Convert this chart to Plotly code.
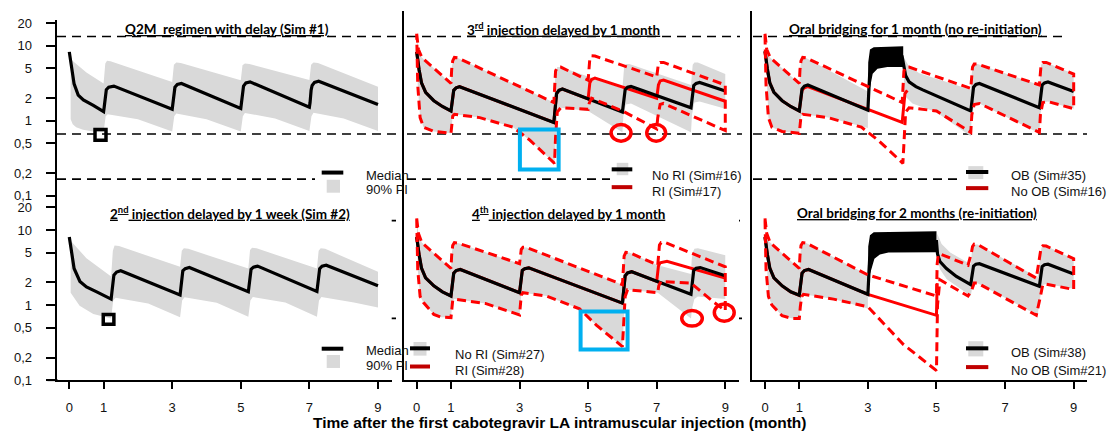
import plotly.graph_objects as go

W, H = 1111, 439

# ---------------- reference concentrations (µg/mL) ----------------
THRESHOLDS = [13.3, 0.664, 0.166]
Y_TICKS = [0.1, 0.2, 0.5, 1, 2, 5, 10, 20]
Y_TICK_TEXT = ["0,1", "0,2", "0,5", "1", "2", "5", "10", "20"]
X_TICKS = [0, 1, 3, 5, 7, 9]

# ---------------- Sim #1 : Q2M regimen with delay ----------------
SIM1_T = [0, 0.03, 0.07, 0.14, 0.26, 0.41, 0.7, 1.0, 1.02, 1.05, 1.08, 1.15, 1.3,
          3.0, 3.02, 3.05, 3.08, 3.15, 3.27, 5.0, 5.02, 5.05, 5.08, 5.15, 5.27,
          7.0, 7.02, 7.05, 7.08, 7.15, 7.27, 9.0]
SIM1_MED = [8.3, 6.5, 4.9, 3.1, 2.2, 1.9, 1.6, 1.32, 1.55, 2.2, 2.6, 2.8, 2.9,
            1.42, 1.65, 2.4, 2.8, 3.05, 3.15, 1.46, 1.7, 2.5, 2.9, 3.2, 3.3,
            1.52, 1.75, 2.55, 2.95, 3.25, 3.37, 1.65]
SIM1_HI_T = [0.04, 0.5, 1.0, 1.02, 1.05, 1.1, 1.2, 3.0, 3.02, 3.05, 3.12, 3.25,
             5.0, 5.02, 5.05, 5.12, 5.25, 7.0, 7.02, 7.05, 7.12, 7.25, 9.0]
SIM1_HI = [6.6, 4.4, 3.15, 4.5, 5.8, 6.3, 6.2, 3.3, 4.6, 5.6, 6.0, 5.9,
           3.47, 4.6, 5.5, 5.8, 5.7, 3.5, 4.6, 5.6, 6.0, 5.9, 2.85]
SIM1_LO_T = [0.04, 0.1, 0.2, 0.4, 0.7, 1.0, 1.03, 1.06, 1.12, 2.0, 3.0, 3.03, 3.06,
             3.12, 4.0, 5.0, 5.03, 5.06, 5.12, 6.0, 7.0, 7.03, 7.06, 7.12, 8.0, 9.0]
SIM1_LO = [1.05, 0.9, 0.82, 0.76, 0.72, 0.70, 0.85, 1.15, 1.22, 1.05, 0.72, 0.9, 1.15,
           1.25, 1.05, 0.72, 0.9, 1.15, 1.27, 1.07, 0.73, 0.9, 1.15, 1.28, 1.07, 0.73]

# ---------------- Sim #2 : 2nd injection delayed by 1 week ----------------
SIM2_T = [0, 0.03, 0.07, 0.14, 0.31, 0.5, 0.8, 1.22, 1.24, 1.27, 1.3, 1.38, 1.5,
          3.23, 3.25, 3.28, 3.31, 3.38, 3.5, 5.22, 5.24, 5.27, 5.3, 5.37, 5.49,
          7.22, 7.24, 7.27, 7.3, 7.37, 7.49, 9.0]
SIM2_MED = [8.07, 6.3, 4.8, 3.07, 2.06, 1.74, 1.5, 1.2, 1.45, 2.1, 2.5, 2.75, 2.87,
            1.36, 1.65, 2.4, 2.85, 3.05, 3.16, 1.5, 1.8, 2.6, 3.0, 3.2, 3.3,
            1.52, 1.85, 2.65, 3.05, 3.3, 3.4, 1.81]
SIM2_HI_T = [0.04, 0.5, 1.22, 1.24, 1.27, 1.32, 1.45, 3.23, 3.25, 3.28, 3.34, 3.47,
             5.22, 5.24, 5.27, 5.33, 5.46, 7.22, 7.24, 7.27, 7.33, 7.46, 9.0]
SIM2_HI = [7.2, 4.2, 2.4, 3.8, 5.3, 6.2, 6.1, 3.23, 4.4, 5.3, 5.7, 5.6,
           3.06, 4.4, 5.4, 5.8, 5.7, 3.06, 4.4, 5.3, 5.7, 5.6, 2.78]
SIM2_LO_T = [0.04, 0.3, 0.7, 1.22, 1.25, 1.28, 1.35, 2.3, 3.23, 3.26, 3.29, 3.36, 4.3,
             5.22, 5.25, 5.28, 5.35, 6.3, 7.22, 7.25, 7.28, 7.35, 8.3, 9.0]
SIM2_LO = [1.46, 0.98, 0.76, 0.66, 0.9, 1.15, 1.25, 1.05, 0.69, 0.9, 1.15, 1.27, 1.07,
           0.7, 0.9, 1.15, 1.28, 1.08, 0.7, 0.9, 1.15, 1.28, 1.08, 0.93]

# ---------------- Sim #16 : 3rd injection delayed, no re-initiation ----------------
SIM16_T = [0, 0.03, 0.07, 0.14, 0.26, 0.5, 0.75, 1.0, 1.02, 1.05, 1.08, 1.15, 1.25,
           4.0, 4.02, 4.05, 4.08, 4.15, 4.25, 6.0, 6.02, 6.05, 6.08, 6.15, 6.25,
           8.0, 8.02, 8.05, 8.08, 8.15, 8.25, 9.0]
SIM16_MED = [8.3, 6.3, 4.8, 3.2, 2.4, 1.85, 1.55, 1.35, 1.6, 2.2, 2.55, 2.75, 2.85,
             0.95, 1.2, 1.9, 2.3, 2.55, 2.65, 1.31, 1.55, 2.2, 2.6, 2.8, 2.87,
             1.49, 1.8, 2.6, 2.95, 3.15, 3.24, 2.5]
SIM16_UP_T = [0, 0.05, 0.15, 1.0, 1.02, 1.05, 1.1, 1.2, 4.0, 4.02, 4.05, 4.1, 4.2,
              6.0, 6.02, 6.05, 6.1, 6.2, 8.0, 8.02, 8.05, 8.1, 8.2, 9.0]
SIM16_UP = [14.5, 9.0, 7.0, 3.15, 4.8, 6.3, 7.0, 6.9, 1.75, 3.2, 4.6, 5.2, 5.2,
            2.7, 4.0, 5.2, 5.7, 5.7, 3.0, 4.5, 5.6, 6.0, 6.0, 4.2]
SIM16_LO_T = [0, 0.03, 0.1, 0.2, 0.5, 1.0, 1.02, 1.05, 1.1, 1.84, 2.81, 3.3,
              4.02, 4.05, 4.1, 4.2, 5.0, 6.0, 6.03, 6.1, 6.25, 8.0, 8.03, 8.1, 8.25, 9.0]
SIM16_LO = [14.5, 3.0, 1.1, 0.82, 0.72, 0.68, 0.9, 1.15, 1.22, 1.10, 0.82, 0.55,
            0.27, 0.6, 1.3, 1.49, 1.35, 0.70, 1.2, 1.65, 1.7, 0.70, 1.2, 1.75, 1.8, 1.45]

# ---------------- Sim #17 : 3rd injection delayed, re-initiation ----------------
SIM17_T = [0, 0.03, 0.07, 0.14, 0.26, 0.5, 0.75, 1.0, 1.02, 1.05, 1.08, 1.15, 1.25,
           4.0, 4.02, 4.05, 4.08, 4.15, 4.25, 5.0, 5.02, 5.05, 5.1, 5.2,
           7.0, 7.02, 7.05, 7.1, 7.2, 9.0]
SIM17_MED = [8.3, 6.3, 4.8, 3.2, 2.4, 1.85, 1.55, 1.35, 1.6, 2.2, 2.55, 2.75, 2.85,
             0.95, 1.2, 1.9, 2.3, 2.55, 2.65, 1.96, 2.4, 3.2, 3.55, 3.72,
             2.0, 2.3, 3.0, 3.4, 3.5, 1.82]
SIM17_UP_T = [0, 0.05, 0.15, 1.0, 1.02, 1.05, 1.1, 1.2, 4.0, 4.02, 4.05, 4.1, 4.2,
              5.0, 5.02, 5.05, 5.1, 5.2, 7.0, 7.02, 7.05, 7.1, 7.2, 9.0]
SIM17_UP = [14.5, 9.0, 7.0, 3.15, 4.8, 6.3, 7.0, 6.9, 1.75, 3.2, 4.6, 5.2, 5.2,
            3.47, 5.0, 6.8, 7.35, 7.3, 3.84, 5.0, 5.8, 6.0, 6.0, 3.0]
SIM17_LO_T = [0, 0.03, 0.1, 0.2, 0.5, 1.0, 1.02, 1.05, 1.1, 1.84, 2.81, 3.3,
              4.02, 4.05, 4.1, 4.2, 5.0, 5.03, 5.1, 6.0, 7.0, 7.03, 7.1, 7.2, 9.0]
SIM17_LO = [14.5, 3.0, 1.1, 0.82, 0.72, 0.68, 0.9, 1.15, 1.22, 1.10, 0.82, 0.55,
            0.27, 0.6, 1.3, 1.49, 1.42, 1.7, 2.0, 1.35, 0.78, 1.1, 1.65, 1.7, 0.74]

# ---------------- Sim #35 : oral bridging for 1 month ----------------
SIM35_T = [0, 0.03, 0.07, 0.14, 0.26, 0.5, 0.75, 1.0, 1.02, 1.05, 1.08, 1.15, 1.25,
           3.0, 3.05, 3.15, 3.4, 4.0, 4.05, 4.1, 4.2, 4.4, 4.6,
           6.0, 6.02, 6.05, 6.08, 6.15, 6.25, 8.0, 8.02, 8.05, 8.08, 8.15, 8.25, 9.0]
SIM35_MED = [8.5, 6.4, 4.9, 3.2, 2.4, 1.85, 1.55, 1.35, 1.6, 2.3, 2.65, 2.9, 3.0,
             1.38, 4.0, 6.0, 7.0, 7.1, 5.2, 4.0, 3.3, 2.85, 2.58,
             1.35, 1.6, 2.4, 2.8, 3.05, 3.15, 1.49, 1.8, 2.6, 3.0, 3.2, 3.3, 2.45]
SIM35_ORAL_HI_T = [2.99, 3.01, 3.06, 3.17, 4.03]
SIM35_ORAL_HI = [1.38, 6.0, 8.9, 9.6, 9.9]
SIM35_ORAL_LO_T = [2.99, 3.04, 3.14, 3.28, 3.57, 4.03]
SIM35_ORAL_LO = [1.38, 2.45, 4.24, 4.93, 5.2, 5.2]
SIM35_HI_T = [0.04, 0.15, 1.0, 1.02, 1.05, 1.1, 1.2, 3.0]
SIM35_HI = [8.0, 7.0, 3.15, 4.8, 6.3, 7.0, 6.9, 2.45]
SIM35_LO_T = [0.04, 0.1, 0.2, 0.5, 1.0, 1.02, 1.05, 1.1, 1.84, 3.0]
SIM35_LO = [5.0, 1.1, 0.82, 0.72, 0.68, 0.9, 1.15, 1.22, 1.10, 0.8]
SIM35_HI2_T = [4.05, 4.2, 4.5, 6.0, 6.02, 6.05, 6.1, 6.2, 8.0, 8.02, 8.05, 8.1, 8.2, 9.0]
SIM35_HI2 = [7.0, 5.3, 4.3, 2.6, 4.0, 5.2, 5.7, 5.7, 3.0, 4.5, 5.6, 6.0, 6.0, 4.2]
SIM35_LO2_T = [4.05, 4.3, 5.0, 6.0, 6.03, 6.1, 6.25, 8.0, 8.03, 8.1, 8.25, 9.0]
SIM35_LO2 = [2.2, 1.7, 1.3, 0.62, 1.2, 1.65, 1.7, 0.68, 1.2, 1.75, 1.8, 1.45]
# the no-bridging median is shown up to the delayed injection only
NO_OB_1M_LAST_T = 4.15

# ---------------- Sim #27 : 4th injection delayed, no re-initiation ----------------
SIM27_T = [0, 0.03, 0.07, 0.14, 0.26, 0.5, 0.75, 1.0, 1.02, 1.05, 1.08, 1.15, 1.27,
           3.0, 3.02, 3.05, 3.08, 3.15, 3.27, 6.0, 6.02, 6.05, 6.08, 6.15, 6.27,
           8.0, 8.02, 8.05, 8.08, 8.15, 8.27, 9.0]
SIM27_MED = [8.07, 6.2, 4.7, 3.1, 2.3, 1.8, 1.5, 1.32, 1.6, 2.3, 2.65, 2.88, 2.98,
             1.46, 1.75, 2.5, 2.9, 3.05, 3.13, 1.06, 1.35, 2.05, 2.45, 2.68, 2.78,
             1.39, 1.7, 2.5, 2.9, 3.08, 3.16, 2.45]
SIM27_UP_T = [0, 0.05, 0.15, 1.0, 1.02, 1.05, 1.1, 1.2, 3.0, 3.02, 3.05, 3.1, 3.2,
              6.0, 6.02, 6.05, 6.1, 6.2, 7.03, 8.0, 8.02, 8.05, 8.1, 8.2, 9.0]
SIM27_UP = [14.3, 9.0, 6.8, 3.07, 4.6, 6.2, 6.8, 6.7, 3.56, 4.6, 5.5, 5.87, 5.85,
            1.87, 3.3, 4.5, 5.04, 5.0, 3.4, 2.6, 4.0, 5.0, 5.6, 5.7, 4.6]
SIM27_LO_T = [0, 0.03, 0.1, 0.2, 0.5, 0.7, 1.0, 1.02, 1.05, 1.1, 2.0, 3.0, 3.02, 3.05,
              3.1, 3.78, 4.75, 5.24, 6.0, 6.03, 6.08, 6.15, 7.03, 8.0, 8.03, 8.1, 8.2, 9.0]
SIM27_LO = [14.3, 3.0, 1.3, 1.08, 0.75, 0.69, 0.68, 0.9, 1.15, 1.2, 1.05, 0.74, 1.0, 1.35,
            1.46, 1.32, 0.89, 0.54, 0.28, 0.6, 1.3, 1.6, 1.46, 0.66, 0.9, 1.2, 1.3, 1.2]

# ---------------- Sim #28 : 4th injection delayed, re-initiation ----------------
SIM28_T = [0, 0.03, 0.07, 0.14, 0.26, 0.5, 0.75, 1.0, 1.02, 1.05, 1.08, 1.15, 1.27,
           3.0, 3.02, 3.05, 3.08, 3.15, 3.27, 6.0, 6.02, 6.05, 6.08, 6.15, 6.27,
           7.0, 7.02, 7.05, 7.1, 7.3, 9.0]
SIM28_MED = [8.07, 6.2, 4.7, 3.1, 2.3, 1.8, 1.5, 1.32, 1.6, 2.3, 2.65, 2.88, 2.98,
             1.46, 1.75, 2.5, 2.9, 3.05, 3.13, 1.06, 1.35, 2.05, 2.45, 2.68, 2.78,
             2.06, 2.6, 3.3, 3.65, 3.83, 2.28]
SIM28_UP_T = [0, 0.05, 0.15, 1.0, 1.02, 1.05, 1.1, 1.2, 3.0, 3.02, 3.05, 3.1, 3.2,
              6.0, 6.02, 6.05, 6.1, 6.2, 7.03, 7.05, 7.08, 7.13, 7.25, 9.0]
SIM28_UP = [14.3, 9.0, 6.8, 3.07, 4.6, 6.2, 6.8, 6.7, 3.56, 4.6, 5.5, 5.87, 5.85,
            1.87, 3.3, 4.5, 5.04, 5.0, 3.4, 5.0, 6.3, 6.8, 6.8, 3.23]
SIM28_LO_T = [0, 0.03, 0.1, 0.2, 0.5, 0.7, 1.0, 1.02, 1.05, 1.1, 2.0, 3.0, 3.02, 3.05,
              3.1, 3.78, 4.75, 5.24, 6.0, 6.03, 6.08, 6.15, 7.03, 7.06, 7.12, 8.0, 8.68, 9.0]
SIM28_LO = [14.3, 3.0, 1.3, 1.08, 0.75, 0.69, 0.68, 0.9, 1.15, 1.2, 1.05, 0.74, 1.0, 1.35,
            1.46, 1.32, 0.89, 0.54, 0.28, 0.6, 1.3, 1.6, 1.46, 1.8, 2.06, 1.96, 1.08, 0.84]

# ---------------- Sim #38 : oral bridging for 2 months ----------------
SIM38_T = [0, 0.03, 0.07, 0.14, 0.26, 0.5, 0.75, 1.0, 1.02, 1.05, 1.08, 1.15, 1.27,
           3.0, 3.05, 3.15, 3.4, 5.0, 5.03, 5.1, 5.29, 5.58,
           6.0, 6.02, 6.05, 6.08, 6.15, 6.25, 8.0, 8.02, 8.05, 8.08, 8.15, 8.25, 9.0]
SIM38_MED = [8.07, 6.2, 4.7, 3.1, 2.3, 1.8, 1.5, 1.35, 1.6, 2.3, 2.65, 2.88, 2.98,
             1.39, 4.0, 6.0, 7.0, 7.0, 4.8, 3.8, 3.07, 2.4,
             1.87, 2.2, 2.9, 3.3, 3.5, 3.56, 1.78, 2.1, 2.9, 3.25, 3.45, 3.5, 2.6]
SIM38_ORAL_HI_T = [2.99, 3.01, 3.06, 3.17, 5.0]
SIM38_ORAL_HI = [1.39, 6.0, 8.5, 9.3, 9.6]
SIM38_ORAL_LO_T = [2.99, 3.04, 3.19, 3.35, 3.6, 5.0]
SIM38_ORAL_LO = [1.39, 2.4, 4.14, 4.7, 5.0, 5.04]
SIM38_HI_T = [0.04, 0.15, 1.0, 1.02, 1.05, 1.1, 1.2, 3.0]
SIM38_HI = [7.5, 6.8, 3.07, 4.6, 6.2, 6.8, 6.7, 2.52]
SIM38_LO_T = [0.04, 0.1, 0.2, 0.5, 0.8, 1.0, 1.03, 1.07, 1.12, 2.0, 3.0]
SIM38_LO = [5.0, 1.3, 1.0, 0.72, 0.66, 0.66, 0.95, 1.3, 1.39, 1.2, 0.9]
SIM38_HI2_T = [5.02, 5.15, 5.4, 6.0, 6.03, 6.06, 6.1, 6.2, 7.95, 8.03, 8.06, 8.1, 8.2, 9.0]
SIM38_HI2 = [9.0, 6.5, 5.0, 3.5, 5.0, 6.0, 6.4, 6.4, 2.35, 4.8, 5.8, 6.1, 6.1, 4.1]
SIM38_LO2_T = [5.02, 5.1, 5.3, 6.0, 6.03, 6.1, 6.2, 7.95, 8.03, 8.1, 8.2, 9.0]
SIM38_LO2 = [4.5, 3.0, 2.2, 1.32, 1.6, 1.9, 1.95, 0.73, 1.3, 1.85, 1.9, 1.65]

# ---------------- Sim #21 : no oral bridging, re-initiation ----------------
SIM21_T = [0, 0.03, 0.07, 0.14, 0.26, 0.5, 0.75, 1.0, 1.02, 1.05, 1.08, 1.15, 1.27,
           3.0, 5.0, 5.02]
SIM21_MED = [8.07, 6.2, 4.7, 3.1, 2.3, 1.8, 1.5, 1.35, 1.6, 2.3, 2.65, 2.88, 2.98,
             1.39, 0.73, 1.96]
SIM21_UP_T = [0, 0.05, 0.15, 1.0, 1.02, 1.05, 1.1, 1.2, 3.0, 5.0, 5.02, 5.05, 5.1, 5.92,
              6.02, 6.05, 6.1, 6.2, 7.91, 8.02, 8.05, 8.1, 8.2, 9.0]
SIM21_UP = [14.3, 9.0, 6.8, 3.07, 4.6, 6.2, 6.8, 6.7, 2.52, 1.32, 3.5, 4.6, 4.8, 3.4,
            5.0, 6.0, 6.47, 6.4, 2.28, 4.8, 5.8, 6.16, 6.1, 4.14]
SIM21_LO_T = [0, 0.03, 0.1, 0.2, 0.5, 0.8, 1.0, 1.03, 1.07, 1.12, 2.0, 3.0, 4.03, 5.0,
              5.03, 5.1, 5.92, 6.03, 6.1, 6.2, 7.91, 8.03, 8.1, 8.2, 9.0]
SIM21_LO = [14.3, 3.0, 1.3, 1.0, 0.72, 0.66, 0.66, 0.95, 1.3, 1.39, 1.2, 0.95, 0.30, 0.134,
            1.0, 2.17, 1.32, 1.6, 1.96, 1.96, 0.73, 1.3, 1.87, 1.9, 1.61]

# ---------------- highlighted regions (month, µg/mL) ----------------
SQUARE_SIM1_T, SQUARE_SIM1_C = [0.75, 1.07], [0.55, 0.764]
SQUARE_SIM2_T, SQUARE_SIM2_C = [0.99, 1.30], [0.557, 0.749]
BOX_SIM17_T, BOX_SIM17_C = [3.01, 4.14], [0.224, 0.764]
BOX_SIM28_T, BOX_SIM28_C = [4.78, 6.15], [0.256, 0.818]
RINGS_SIM17_T = [[5.67, 6.25], [6.71, 7.26]]
RINGS_SIM17_C = [[0.534, 0.887], [0.534, 0.887]]
RINGS_SIM28_T = [[7.73, 8.33], [8.68, 9.26]]
RINGS_SIM28_C = [[0.524, 0.844], [0.608, 1.035]]

TITLES = [
    "Q2M\u00a0 regimen with delay (Sim #1)",
    "3<sup>rd</sup> injection delayed by 1 month",
    "Oral bridging for 1 month (no re-initiation)",
    "2<sup>nd</sup> injection delayed by 1 week (Sim #2)",
    "4<sup>th</sup> injection delayed by 1 month",
    "Oral bridging for 2 months (re-initiation)",
]
X_TITLE = "Time after the first cabotegravir LA intramuscular injection (month)"

GREY = "#d9d9d9"
RED = "#ff0000"
DARK_RED = "#c00000"
BLUE = "#00b0f0"
ARIAL = "Liberation Sans, Arial, sans-serif"
TITLE_FONT = "Lato, Carlito, Calibri, sans-serif"


def fx(px):
    return px / W


def fy(py):
    return 1 - py / H


fig = go.Figure()


def ax_ids(n):
    return ("x" if n == 1 else f"x{n}"), ("y" if n == 1 else f"y{n}")


def add_band(n, t_hi, v_hi, t_lo, v_lo, color=GREY):
    xa, ya = ax_ids(n)
    fig.add_trace(go.Scatter(
        x=list(t_hi) + list(t_lo)[::-1], y=list(v_hi) + list(v_lo)[::-1],
        mode="lines", fill="toself", fillcolor=color, line=dict(width=0, color=color),
        xaxis=xa, yaxis=ya, hoverinfo="skip", showlegend=False))


def add_line(n, t, v, color, width):
    xa, ya = ax_ids(n)
    fig.add_trace(go.Scatter(
        x=t, y=v, mode="lines", line=dict(color=color, width=width),
        xaxis=xa, yaxis=ya, hoverinfo="skip", showlegend=False))


def add_pi_outline(n, t_up, v_up, t_lo, v_lo):
    xa, ya = ax_ids(n)
    fig.add_trace(go.Scatter(
        x=list(t_up) + list(t_lo)[::-1], y=list(v_up) + list(v_lo)[::-1],
        mode="lines", line=dict(color=RED, width=3, dash="9px,5px"),
        xaxis=xa, yaxis=ya, hoverinfo="skip", showlegend=False))


# Panel 1: Sim #1
add_band(1, SIM1_HI_T, SIM1_HI, SIM1_LO_T, SIM1_LO)
add_line(1, SIM1_T, SIM1_MED, "black", 3.2)

# Panel 2: Sim #16 (grey / black) vs Sim #17 (red)
add_band(2, SIM16_UP_T, SIM16_UP, SIM16_LO_T, SIM16_LO)
add_line(2, SIM17_T, SIM17_MED, RED, 3)
add_line(2, SIM16_T, SIM16_MED, "black", 3.2)
add_pi_outline(2, SIM17_UP_T, SIM17_UP, SIM17_LO_T, SIM17_LO)

# Panel 3: Sim #35 (grey / black) vs Sim #16 (red)
add_band(3, SIM35_HI_T, SIM35_HI, SIM35_LO_T, SIM35_LO)
add_band(3, SIM35_HI2_T, SIM35_HI2, SIM35_LO2_T, SIM35_LO2)
keep = [i for i, t in enumerate(SIM16_T) if t <= NO_OB_1M_LAST_T]
add_line(3, [SIM16_T[i] for i in keep], [SIM16_MED[i] for i in keep], RED, 3)
add_band(3, SIM35_ORAL_HI_T, SIM35_ORAL_HI, SIM35_ORAL_LO_T, SIM35_ORAL_LO, color="black")
add_line(3, SIM35_T, SIM35_MED, "black", 3.2)
add_pi_outline(3, SIM16_UP_T, SIM16_UP, SIM16_LO_T, SIM16_LO)

# Panel 4: Sim #2
add_band(4, SIM2_HI_T, SIM2_HI, SIM2_LO_T, SIM2_LO)
add_line(4, SIM2_T, SIM2_MED, "black", 3.2)

# Panel 5: Sim #27 (grey / black) vs Sim #28 (red)
add_band(5, SIM27_UP_T, SIM27_UP, SIM27_LO_T, SIM27_LO)
add_line(5, SIM28_T, SIM28_MED, RED, 3)
add_line(5, SIM27_T, SIM27_MED, "black", 3.2)
add_pi_outline(5, SIM28_UP_T, SIM28_UP, SIM28_LO_T, SIM28_LO)

# Panel 6: Sim #38 (grey / black) vs Sim #21 (red)
add_band(6, SIM38_HI_T, SIM38_HI, SIM38_LO_T, SIM38_LO)
add_band(6, SIM38_HI2_T, SIM38_HI2, SIM38_LO2_T, SIM38_LO2)
add_line(6, SIM21_T, SIM21_MED, RED, 3)
add_band(6, SIM38_ORAL_HI_T, SIM38_ORAL_HI, SIM38_ORAL_LO_T, SIM38_ORAL_LO, color="black")
add_line(6, SIM38_T, SIM38_MED, "black", 3.2)
add_pi_outline(6, SIM21_UP_T, SIM21_UP, SIM21_LO_T, SIM21_LO)

# ---------------- axes ----------------
COL_PX = [(56.6, 391.7), (404.0, 739.0), (752.3, 1087.4)]
X_RANGE = [-0.37, 9.4]
layout_axes = {}
for n in range(1, 7):
    col = (n - 1) % 3
    top = n <= 3
    xa, ya = ax_ids(n)
    xkey = "xaxis" if n == 1 else f"xaxis{n}"
    ykey = "yaxis" if n == 1 else f"yaxis{n}"
    x0, x1 = COL_PX[col]
    if top:
        ytop = 16.8 if col == 0 else 7.0
        ybot = 197.0
        yr = [-1, -1 + (ybot - ytop) / 77.0]
    else:
        ytop, ybot = 196.8, 386.7
        yr = [-1, 1.46]
    xdict = dict(domain=[fx(x0), fx(x1)], range=X_RANGE, anchor=ya,
                 showgrid=False, zeroline=False, fixedrange=True)
    if top:
        xdict.update(visible=False)
    else:
        xdict.update(showline=True, linewidth=2, linecolor="black", ticks="outside",
                     ticklen=7, tickwidth=2, tickcolor="black", tickvals=X_TICKS,
                     ticklabelstandoff=7,
                     tickfont=dict(family=ARIAL, size=13, color="#111"))
    ydict = dict(type="log", domain=[fy(ybot), fy(ytop)], range=yr, anchor=xa,
                 showgrid=False, zeroline=False, showline=True, linewidth=2,
                 linecolor="black", fixedrange=True)
    if col == 0:
        ydict.update(ticks="outside", ticklen=9, tickwidth=2, tickcolor="black",
                     tickvals=Y_TICKS, ticktext=Y_TICK_TEXT, ticklabelstandoff=11,
                     tickfont=dict(family=ARIAL, size=13, color="#111"))
    else:
        ydict.update(ticks="", showticklabels=False)
    layout_axes[xkey] = xdict
    layout_axes[ykey] = ydict

shapes = []
annotations = []

# ---------------- threshold lines ----------------
DASH_SPANS = {
    1: [(57, 400), (57, 400), (57, 315)],
    2: [(407, 740), (407, 742), (407, 610)],
    3: [(753, 1067), (753, 1087), (753, 957)],
    4: [(57, 400), (57, 400), (57, 315)],
    5: [(407, 740), (407, 742), (727, 740)],
    6: [(753, 1085), (753, 1087), (753, 957)],
}
for n, spans in DASH_SPANS.items():
    _, ya = ax_ids(n)
    for (a, b), level in zip(spans, THRESHOLDS):
        shapes.append(dict(type="line", xref="paper", yref=ya, x0=fx(a), x1=fx(b),
                           y0=level, y1=level, layer="below",
                           line=dict(color="black", width=1.6, dash="9px,6px")))

# extension of the first x axis beyond the y axis
shapes.append(dict(type="line", xref="paper", yref="paper", x0=fx(47.5), x1=fx(57.5),
                   y0=fy(386.7), y1=fy(386.7), line=dict(color="black", width=2)))


# ---------------- highlight markers ----------------
def rect(n, t, c, color, width):
    xa, ya = ax_ids(n)
    shapes.append(dict(type="rect", xref=xa, yref=ya, x0=t[0], x1=t[1], y0=c[0], y1=c[1],
                       line=dict(color=color, width=width), layer="above"))


def ring(n, t, c):
    xa, ya = ax_ids(n)
    shapes.append(dict(type="circle", xref=xa, yref=ya, x0=t[0], x1=t[1], y0=c[0], y1=c[1],
                       line=dict(color=RED, width=3.5), layer="above"))


rect(1, SQUARE_SIM1_T, SQUARE_SIM1_C, "black", 3.5)
rect(4, SQUARE_SIM2_T, SQUARE_SIM2_C, "black", 3.5)
rect(2, BOX_SIM17_T, BOX_SIM17_C, BLUE, 4)
rect(5, BOX_SIM28_T, BOX_SIM28_C, BLUE, 4)
for t, c in zip(RINGS_SIM17_T, RINGS_SIM17_C):
    ring(2, t, c)
for t, c in zip(RINGS_SIM28_T, RINGS_SIM28_C):
    ring(5, t, c)

# ---------------- panel titles ----------------
TITLE_POS = [(227, 26), (563, 26), (915, 26), (230, 215), (568, 215), (917, 215)]
for text, (cx, cy) in zip(TITLES, TITLE_POS):
    annotations.append(dict(
        text=f'<b><span style="text-decoration:underline">{text}</span></b>',
        x=fx(cx), y=fy(cy), xref="paper", yref="paper", showarrow=False,
        xanchor="center", yanchor="middle",
        font=dict(family=TITLE_FONT, size=13.5, color="black")))

annotations.append(dict(text=f"<b>{X_TITLE}</b>", x=fx(560), y=fy(430), xref="paper",
                        yref="paper", showarrow=False, xanchor="center", yanchor="middle",
                        font=dict(family=ARIAL, size=15.5, color="black")))


# ---------------- legends ----------------
def legend_line(x0, x1, y, color):
    shapes.append(dict(type="line", xref="paper", yref="paper", x0=fx(x0), x1=fx(x1),
                       y0=fy(y), y1=fy(y), line=dict(color=color, width=4)))


def legend_patch(x0, x1, y0, y1):
    shapes.append(dict(type="rect", xref="paper", yref="paper", x0=fx(x0), x1=fx(x1),
                       y0=fy(y1), y1=fy(y0), fillcolor=GREY, line=dict(width=0)))


def legend_text(text, x, y):
    annotations.append(dict(text=text, x=fx(x), y=fy(y), xref="paper", yref="paper",
                            showarrow=False, xanchor="left", yanchor="middle",
                            font=dict(family=ARIAL, size=13, color="#111")))


# median / 90% PI keys (left column)
for base in (0, 182):
    legend_line(321.7, 343.3, 173.3 + base * 0.995, "black")
    legend_patch(326.7, 340, 180.7 + base * 0.99, 194 + base * 0.99)
    legend_text("Median", 364, 176.5 + base * 0.99)
    legend_text("90% PI", 364, 191 + base * 0.99)

# scenario keys
KEYS = [
    (611.7, 632.3, 170, 188.3, 616.7, 628.3, 163.3, 176, 650, 176.7, 192.3,
     "No RI (Sim#16)", "RI (Sim#17)"),
    (410, 430, 354, 372.7, 413.5, 426.5, 347.5, 361.5, 452.7, 360, 377.3,
     "No RI (Sim#27)", "RI (Sim#28)"),
    (966, 988.3, 172.7, 189.3, 968.3, 983.3, 166.7, 180, 1009.3, 176.7, 192.7,
     "OB (Sim#35)", "No OB (Sim#16)"),
    (966, 988.3, 354, 373.3, 968.3, 983.3, 346.7, 362.3, 1009.3, 358.3, 376.7,
     "OB (Sim#38)", "No OB (Sim#21)"),
]
for (lx0, lx1, yb, yr_, px0, px1, py0, py1, tx, ty1, ty2, t1, t2) in KEYS:
    legend_patch(px0, px1, py0, py1)
    legend_line(lx0, lx1, yb, "black")
    legend_line(lx0, lx1, yr_, DARK_RED)
    legend_text(t1, tx, ty1)
    legend_text(t2, tx, ty2)

fig.update_layout(
    width=W, height=H, margin=dict(l=0, r=0, t=0, b=0, pad=0),
    paper_bgcolor="white", plot_bgcolor="white", showlegend=False,
    shapes=shapes, annotations=annotations, **layout_axes)

fig.write_html("out.html")
